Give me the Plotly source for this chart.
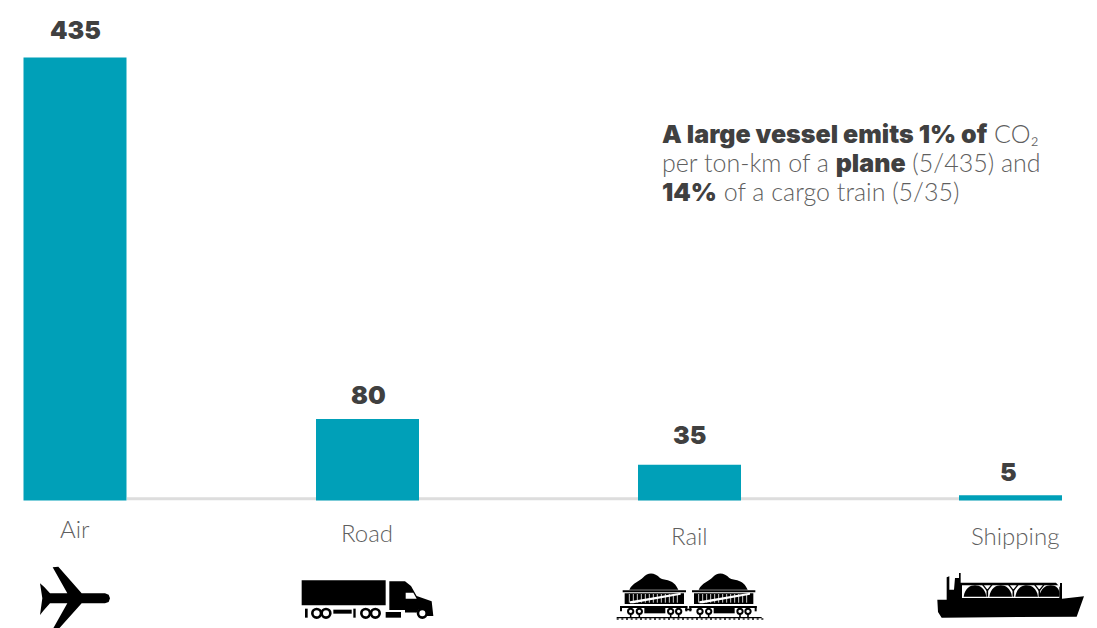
import plotly.graph_objects as go

# CO2 intensity per ton-km by freight mode
categories = ["Air", "Road", "Rail", "Shipping"]
emissions = [435, 80, 35, 5]
bar_centers = [75, 367.5, 689.5, 1010.5]
label_centers = [74.5, 367, 689, 1014.5]
label_rows = [528.6, 532.6, 535.6, 535.6]
value_shifts = [28, 24, 30, 23]
value_nudges = [0, 1, 0, -2]

BAR_COLOR = "#00A0B8"
DARK = "#404040"
LIGHT = "#5F5F5F"
FAMILY = "Lato, 'Open Sans', sans-serif"
HEAVY_FAMILY = "Inter"
W, H = 1097, 628
PX_PER_UNIT = 1.018
BASELINE = 500.4

fig = go.Figure()
fig.add_trace(go.Bar(x=bar_centers, y=emissions, width=103,
                     marker=dict(color=BAR_COLOR, line=dict(width=0)),
                     hoverinfo="skip", showlegend=False))


def poly(points, ox, oy, color="black"):
    """Closed outline given in third-of-a-pixel units around an icon origin."""
    pts = [(ox + x / 3, oy + y / 3) for x, y in points]
    d = "M" + " L".join(f"{x:.2f},{y:.2f}" for x, y in pts) + " Z"
    return dict(type="path", path=d, xref="x2", yref="y2", fillcolor=color, line=dict(width=0), layer="above")


def curve(d_points, ox, oy, color="black"):
    """Smooth closed outline: start point, then cubic segments."""
    start, *segs = d_points
    d = f"M{ox + start[0] / 3:.2f},{oy + start[1] / 3:.2f}"
    for seg in segs:
        d += " C" + " ".join(f"{ox + x / 3:.2f},{oy + y / 3:.2f}" for x, y in seg)
    return dict(type="path", path=d + " Z", xref="x2", yref="y2", fillcolor=color, line=dict(width=0), layer="above")


def rect(x0, y0, x1, y1, ox, oy, color="black"):
    return poly([(x0, y0), (x1, y0), (x1, y1), (x0, y1)], ox, oy, color)


def wheel(cx, cy, r, ox, oy, lw=2.0):
    return dict(type="circle", xref="x2", yref="y2", layer="above",
                x0=ox + (cx - r) / 3, x1=ox + (cx + r) / 3, y0=oy + (cy - r) / 3, y1=oy + (cy + r) / 3,
                fillcolor="white", line=dict(color="black", width=lw))


def stroke(x0, y0, x1, y1, ox, oy, color="white", w=1):
    return dict(type="line", xref="x2", yref="y2", layer="above",
                x0=ox + x0 / 3, y0=oy + y0 / 3, x1=ox + x1 / 3, y1=oy + y1 / 3,
                line=dict(color=color, width=w))


shapes = [dict(type="line", xref="x", yref="y", x0=127, x1=1062, y0=1.5, y1=1.5,
               line=dict(color="#DDDDDD", width=3), layer="below")]

# plane
ox, oy = 30, 560
shapes.append(poly([(30, 70), (42, 80), (60, 100), (112, 100), (68, 22), (85, 20), (155, 100), (225, 100),
                    (236, 104), (240, 115), (236, 126), (225, 130), (155, 130), (85, 208), (68, 208),
                    (112, 130), (60, 130), (42, 150), (30, 165), (37, 115)], ox, oy))

# truck
ox, oy = 295, 572
shapes.append(rect(20, 25, 272, 100, ox, oy))
shapes.append(poly([(283, 28), (330, 28), (348, 42), (365, 72), (410, 88), (415, 132), (396, 132), (392, 112),
                    (372, 112), (364, 122), (330, 122), (330, 114), (283, 114)], ox, oy))
shapes.append(poly([(332, 62), (355, 62), (365, 80), (332, 80)], ox, oy, "white"))
shapes.append(rect(272, 120, 318, 137, ox, oy))
shapes.append(rect(115, 113, 170, 125, ox, oy))
shapes.append(rect(175, 110, 182, 137, ox, oy))
shapes.append(rect(30, 110, 38, 137, ox, oy))
shapes.append(rect(330, 122, 362, 128, ox, oy, "white"))
for cx in [65, 93, 212, 241, 382]:
    shapes.append(wheel(cx, 124, 13, ox, oy, 2.6))

# coal wagons on a track
ox, oy = 610, 568
shapes.append(rect(20, 147, 455, 151, ox, oy))
for tie in range(20, 455, 14):
    shapes.append(rect(tie, 151, tie + 6, 155, ox, oy))
shapes.append(rect(225, 122, 245, 127, ox, oy))
for dx in (0, 208):
    shapes.append(curve([(58 + dx, 65),
                         ((68 + dx, 45), (88 + dx, 40), (100 + dx, 28)),
                         ((112 + dx, 12), (135 + dx, 12), (150 + dx, 30)),
                         ((165 + dx, 40), (190 + dx, 30), (205 + dx, 65))], ox, oy))
    shapes.append(rect(38 + dx, 67, 228 + dx, 73, ox, oy))
    shapes.append(rect(44 + dx, 76, 222 + dx, 108, ox, oy))
    for sx in range(58, 212, 12):
        shapes.append(stroke(sx + dx, 78, sx + dx, 104, ox, oy, "white", 0.8))
    shapes.append(poly([(60 + dx, 100), (212 + dx, 74), (212 + dx, 80), (70 + dx, 106), (60 + dx, 106)], ox, oy, "white"))
    shapes.append(rect(30 + dx, 114, 232 + dx, 120, ox, oy))
    shapes.append(rect(30 + dx, 114, 36 + dx, 130, ox, oy))
    shapes.append(rect(226 + dx, 114, 232 + dx, 130, ox, oy))
    shapes.append(rect(103 + dx, 120, 166 + dx, 136, ox, oy))
    for cx in (62, 88, 182, 206):
        shapes.append(stroke(cx + dx, 137, cx + dx, 148, ox, oy, "black", 1.6))
    for cx in (62, 88, 182, 206):
        shapes.append(wheel(cx + dx, 130, 8, ox, oy, 2.0))

# gas carrier
ox, oy = 930, 568
shapes.append(poly([(22, 95), (50, 95), (50, 28), (58, 25), (58, 65), (72, 65), (75, 30), (87, 30), (87, 15),
                    (92, 15), (92, 44), (378, 44), (390, 58), (390, 45), (396, 45), (396, 92), (462, 85),
                    (440, 146), (35, 149), (24, 132)], ox, oy))
shapes.append(rect(96, 52, 388, 90, ox, oy, "white"))
for cx in (135, 212, 290, 362):
    shapes.append(curve([(cx - 34, 86),
                         ((cx - 30, 60), (cx - 14, 52), (cx, 52)),
                         ((cx + 14, 52), (cx + 30, 60), (cx + 26 if cx == 362 else cx + 34, 86))], ox, oy))
for cx in (172, 250, 328):
    shapes.append(stroke(cx, 64, cx, 86, ox, oy, "black", 1.6))
    shapes.append(stroke(cx, 68, cx - 14, 50, ox, oy, "black", 1.4))
    shapes.append(stroke(cx, 68, cx + 14, 50, ox, oy, "black", 1.4))

annotations = []
for name, cx, row in zip(categories, label_centers, label_rows):
    annotations.append(dict(x=cx, y=(BASELINE - row) / PX_PER_UNIT, text=name, showarrow=False,
                            xanchor="center", yanchor="middle",
                            font=dict(family=FAMILY, size=24, color=LIGHT, weight=300)))
for value, cx, shift, nudge in zip(emissions, bar_centers, value_shifts, value_nudges):
    annotations.append(dict(x=cx, y=value, text=str(value), showarrow=False, yshift=shift, xshift=nudge,
                            xanchor="center", yanchor="middle",
                            font=dict(family=HEAVY_FAMILY, size=25, color=DARK, weight=900)))


def heavy(s):
    return f'<span style="font-family:{HEAVY_FAMILY};font-weight:900;font-size:25px;color:{DARK}">{s}</span>'


callout_lines = [
    (heavy("A large vessel emits 1% of") + " CO₂", 133.5),
    ("per ton-km of a " + heavy("plane") + " (5/435) and", 162.5),
    (heavy("14%") + " of a cargo train (5/35)", 191.5),
]
for text, row in callout_lines:
    annotations.append(dict(x=660, y=(BASELINE - row) / PX_PER_UNIT, text=text, showarrow=False,
                            xanchor="left", yanchor="middle", align="left",
                            font=dict(family=FAMILY, size=25, color=LIGHT, weight=300)))

fig.update_layout(
    width=W, height=H, margin=dict(l=0, r=0, t=0, b=0), autosize=False,
    paper_bgcolor="white", plot_bgcolor="white", showlegend=False,
    xaxis=dict(range=[0, W], visible=False, fixedrange=True),
    yaxis=dict(range=[(BASELINE - H) / PX_PER_UNIT, BASELINE / PX_PER_UNIT], visible=False, fixedrange=True),
    # overlay axes in page pixels, used for the transport icons
    xaxis2=dict(range=[0, W], visible=False, overlaying="x", fixedrange=True),
    yaxis2=dict(range=[H, 0], visible=False, overlaying="y", fixedrange=True),
    shapes=shapes, annotations=annotations,
)
fig.add_trace(go.Scatter(x=[0], y=[0], xaxis="x2", yaxis="y2", mode="markers",
                         marker=dict(opacity=0), hoverinfo="skip", showlegend=False))
fig.write_html("out.html", config=dict(displayModeBar=False))
